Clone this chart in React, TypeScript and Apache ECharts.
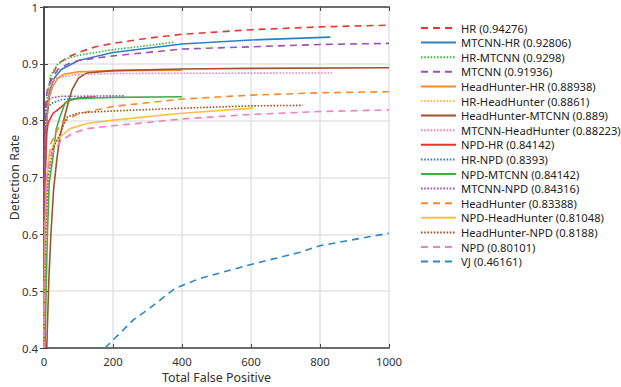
import React, { useEffect, useRef } from "react";
import * as echarts from "echarts";

const xTicks = [0, 200, 400, 600, 800, 1000];
const yTicks = [0.4, 0.5, 0.6, 0.7, 0.8, 0.9, 1];

const names = [
  "HR (0.94276)",
  "MTCNN-HR (0.92806)",
  "HR-MTCNN (0.9298)",
  "MTCNN (0.91936)",
  "HeadHunter-HR (0.88938)",
  "HR-HeadHunter (0.8861)",
  "HeadHunter-MTCNN (0.889)",
  "MTCNN-HeadHunter (0.88223)",
  "NPD-HR (0.84142)",
  "HR-NPD (0.8393)",
  "NPD-MTCNN (0.84142)",
  "MTCNN-NPD (0.84316)",
  "HeadHunter (0.83388)",
  "NPD-HeadHunter (0.81048)",
  "HeadHunter-NPD (0.8188)",
  "NPD (0.80101)",
  "VJ (0.46161)",
];

const colors = [
  "#e8382f", "#2f7fc1", "#3db83d", "#9b52b0", "#f7892b", "#f9c13c", "#a0522d", "#f07ec0",
  "#e8332b", "#2f7fc1", "#3cb43c", "#9b4fb0", "#f7892b", "#fbc04a", "#a0522d", "#f07ec0", "#2f86c8",
];

const styles = [
  "dashed", "solid", "dotted", "dashed", "solid", "dotted", "solid", "dotted",
  "solid", "dotted", "solid", "dotted", "dashed", "solid", "dotted", "dashed", "dashed",
];

const hr = [[0,0.4],[2,0.7],[5,0.8],[10,0.85],[20,0.875],[40,0.9],[70,0.912],[100,0.92],[150,0.93],[200,0.936],[300,0.945],[400,0.952],[600,0.96],[800,0.965],[1000,0.968]];
const mtcnnHr = [[0,0.4],[3,0.7],[8,0.8],[15,0.85],[30,0.875],[50,0.89],[100,0.906],[200,0.92],[400,0.935],[600,0.942],[830,0.947]];
const hrMtcnn = [[0,0.4],[2,0.7],[5,0.8],[10,0.85],[20,0.88],[40,0.9],[70,0.91],[100,0.915],[200,0.925],[300,0.932],[375,0.938]];
const mtcnn = [[0,0.4],[2,0.75],[5,0.83],[10,0.855],[20,0.87],[40,0.89],[70,0.9],[100,0.906],[200,0.914],[400,0.926],[600,0.93],[800,0.934],[1000,0.936]];
const headHunterHr = [[0,0.4],[3,0.7],[8,0.8],[15,0.84],[25,0.86],[40,0.875],[60,0.882],[100,0.886],[200,0.888],[400,0.889]];
const hrHeadHunter = [[0,0.4],[2,0.7],[6,0.8],[12,0.85],[25,0.87],[50,0.88],[100,0.884],[150,0.886]];
const headHunterMtcnn = [[8,0.4],[14,0.52],[20,0.6],[28,0.68],[38,0.736],[46,0.771],[55,0.796],[70,0.831],[81,0.854],[100,0.875],[125,0.884],[200,0.888],[400,0.891],[600,0.892],[1000,0.893]];
const mtcnnHeadHunter = [[0,0.4],[2,0.7],[6,0.8],[12,0.85],[25,0.87],[50,0.877],[100,0.881],[200,0.883],[835,0.884]];
const npdHr = [[0,0.4],[3,0.7],[8,0.78],[12,0.796],[26,0.813],[46,0.822],[70,0.835],[100,0.84],[150,0.842]];
const hrNpd = [[0,0.4],[2,0.7],[5,0.8],[10,0.82],[20,0.83],[50,0.837],[100,0.839]];
const npdMtcnn = [[3,0.4],[6,0.5],[10,0.6],[15,0.69],[26,0.736],[35,0.784],[46,0.806],[61,0.831],[84,0.838],[150,0.84],[200,0.841],[400,0.842]];
const mtcnnNpd = [[0,0.4],[2,0.75],[5,0.82],[10,0.835],[20,0.84],[50,0.843],[100,0.843],[235,0.844]];
const headHunter = [[0,0.4],[3,0.6],[8,0.7],[20,0.76],[40,0.785],[60,0.8],[100,0.812],[200,0.825],[400,0.838],[600,0.845],[800,0.849],[1000,0.851]];
const npdHeadHunter = [[0,0.4],[3,0.6],[8,0.7],[15,0.74],[30,0.76],[46,0.771],[75,0.786],[125,0.795],[200,0.801],[400,0.813],[606,0.822]];
const headHunterNpd = [[0,0.4],[5,0.6],[12,0.7],[25,0.75],[45,0.775],[55,0.79],[67,0.806],[96,0.813],[133,0.815],[200,0.817],[400,0.822],[600,0.826],[750,0.827]];
const npd = [[0,0.4],[3,0.6],[8,0.7],[20,0.74],[50,0.765],[84,0.778],[125,0.786],[200,0.791],[400,0.803],[600,0.811],[800,0.816],[1000,0.819]];
const vj = [[177,0.4],[200,0.414],[260,0.45],[300,0.467],[380,0.505],[450,0.522],[600,0.547],[740,0.568],[800,0.58],[1000,0.602]];

const seriesData = [
  hr, mtcnnHr, hrMtcnn, mtcnn, headHunterHr, hrHeadHunter, headHunterMtcnn, mtcnnHeadHunter,
  npdHr, hrNpd, npdMtcnn, mtcnnNpd, headHunter, npdHeadHunter, headHunterNpd, npd, vj,
];

const FONT = "'Noto Sans', sans-serif";
const AXIS = "#444";

export default function App() {
  const ref = useRef<HTMLDivElement>(null);
  useEffect(() => {
    if (!ref.current) return;
    const chart = echarts.init(ref.current, undefined, { renderer: "svg" });
    const dashFor = (s: string): any =>
      s === "dashed" ? [7, 5] : s === "dotted" ? [1.6, 1.6] : "solid";
    chart.setOption({
      animation: false,
      textStyle: { fontFamily: FONT },
      grid: { left: 44, right: 232, top: 7, bottom: 39, containLabel: false, outerBoundsMode: "none" },
      legend: {
        orient: "vertical",
        left: 415,
        top: 17,
        itemWidth: 35,
        itemHeight: 12,
        itemGap: 2.6,
        itemStyle: { opacity: 0 },
        textStyle: { fontSize: 11.2, lineHeight: 12, color: "#222", fontFamily: FONT },
        data: names,
      },
      xAxis: [
        {
          type: "value",
          min: 0,
          max: 1000,
          interval: 200,
          name: "Total False Positive",
          nameLocation: "middle",
          nameGap: 23,
          nameMoveOverlap: false,
          nameTextStyle: { fontSize: 12.4, color: "#333" },
          axisLine: { show: true, lineStyle: { color: AXIS, width: 1.5 } },
          axisTick: { show: true, inside: true, length: 4, lineStyle: { color: AXIS } },
          axisLabel: { fontSize: 11.4, color: "#333", margin: 8, formatter: (v: number) => String(v) },
          splitLine: { show: true, lineStyle: { color: "#e3e3e3", width: 1.5 } },
        },
        {
          type: "value",
          position: "top",
          min: 0,
          max: 1000,
          interval: 200,
          axisLine: { show: true, lineStyle: { color: AXIS, width: 1.5 } },
          axisTick: { show: true, inside: true, length: 4, lineStyle: { color: AXIS } },
          axisLabel: { show: false },
          splitLine: { show: false },
        },
      ],
      yAxis: [
        {
          type: "value",
          min: 0.4,
          max: 1,
          interval: 0.1,
          name: "Detection Rate",
          nameLocation: "middle",
          nameGap: 24,
          nameMoveOverlap: false,
          nameTextStyle: { fontSize: 12.4, color: "#333" },
          axisLine: { show: true, lineStyle: { color: AXIS, width: 1.5 } },
          axisTick: { show: true, inside: true, length: 4, lineStyle: { color: AXIS } },
          axisLabel: {
            fontSize: 11.4,
            color: "#333",
            margin: 6,
            formatter: (v: number) => (Math.abs(v - 1) < 1e-9 ? "1" : v.toFixed(1)),
          },
          splitLine: { show: true, lineStyle: { color: "#e3e3e3", width: 1.5 } },
        },
        {
          type: "value",
          position: "right",
          min: 0.4,
          max: 1,
          interval: 0.1,
          axisLine: { show: true, lineStyle: { color: AXIS, width: 1.5 } },
          axisTick: { show: true, inside: true, length: 4, lineStyle: { color: AXIS } },
          axisLabel: { show: false },
          splitLine: { show: false },
        },
      ],
      series: seriesData.map((d, i) => ({
        name: names[i],
        type: "line",
        data: d,
        symbol: "none",
        smooth: false,
        clip: true,
        color: colors[i],
        lineStyle: { color: colors[i], width: 1.6, type: dashFor(styles[i]) },
      })),
    });
    return () => chart.dispose();
  }, []);
  return <div ref={ref} style={{ width: 621, height: 387, position: "absolute", left: 0, top: 0, background: "#fff" }} />;
}
